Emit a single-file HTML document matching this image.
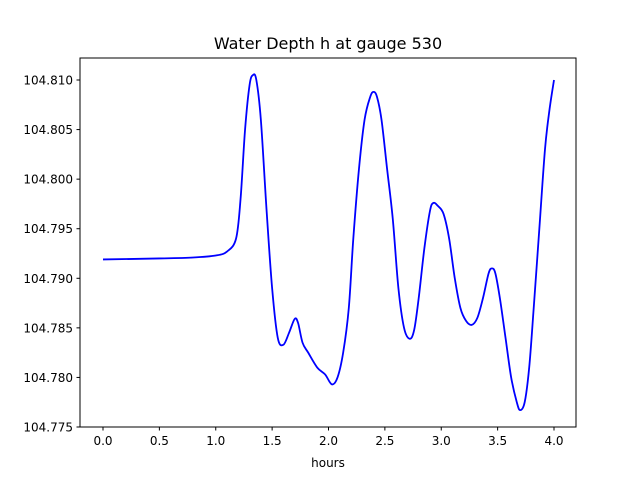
<!DOCTYPE html>
<html><head><meta charset="utf-8"><style>
body{margin:0;background:#fff}
svg text{font-family:"DejaVu Sans","Liberation Sans",sans-serif;fill:#000}
</style></head><body>
<svg width="640" height="480">
<rect width="640" height="480" fill="#fff"/>
<text x="328" y="49" font-size="16" text-anchor="middle">Water Depth h at gauge 530</text>
<g id="xt"></g>
<g id="yt"></g>
<path id="line" fill="none" stroke="#0000ff" stroke-width="1.8"/>
<rect x="80" y="58" width="496" height="369" fill="none" stroke="#000" stroke-width="1"/>
<text x="328" y="467" font-size="12" text-anchor="middle">hours</text>
</svg>
<script>
const hours=[0,0.5,0.8,1.0,1.1,1.18,1.22,1.26,1.3,1.33,1.36,1.4,1.45,1.5,1.55,1.6,1.65,1.7,1.73,1.77,1.82,1.9,1.97,2.03,2.08,2.13,2.18,2.22,2.27,2.32,2.37,2.4,2.43,2.47,2.52,2.57,2.62,2.67,2.72,2.76,2.8,2.85,2.9,2.93,2.97,3.02,3.07,3.12,3.17,3.22,3.27,3.32,3.37,3.42,3.45,3.48,3.52,3.57,3.62,3.67,3.7,3.74,3.78,3.82,3.87,3.92,3.96,4.0];
const depth=[104.7919,104.7920,104.7921,104.7923,104.7927,104.7940,104.798,104.805,104.8095,104.8105,104.8100,104.806,104.797,104.789,104.784,104.7833,104.7845,104.7859,104.7855,104.7835,104.7825,104.7810,104.7803,104.7793,104.7800,104.7825,104.7870,104.7940,104.8010,104.8060,104.8083,104.8088,104.8083,104.8060,104.8010,104.7960,104.7890,104.7850,104.7839,104.7848,104.7880,104.7930,104.7968,104.7976,104.7973,104.7965,104.7940,104.7900,104.7870,104.7857,104.7853,104.7860,104.7880,104.7905,104.7910,104.7905,104.7880,104.7840,104.7800,104.7775,104.7767,104.7775,104.7810,104.7870,104.7950,104.8030,104.8070,104.8100];
const xTicks=[0,0.5,1,1.5,2,2.5,3,3.5,4];
const xLabels=["0.0","0.5","1.0","1.5","2.0","2.5","3.0","3.5","4.0"];
const yTicks=[104.775,104.780,104.785,104.790,104.795,104.800,104.805,104.810];
const yLabels=["104.775","104.780","104.785","104.790","104.795","104.800","104.805","104.810"];
const X=v=>103+v*112.75;
const Y=v=>427-(v-104.775)/0.005*49.57;
const NS="http://www.w3.org/2000/svg";
const xt=document.getElementById('xt'),yt=document.getElementById('yt');
xTicks.forEach((t,i)=>{
  const l=document.createElementNS(NS,'line');
  l.setAttribute('x1',X(t));l.setAttribute('x2',X(t));l.setAttribute('y1',427);l.setAttribute('y2',430.5);l.setAttribute('stroke','#000');
  
  
  xt.appendChild(l);
  const s=document.createElementNS(NS,'text');
  s.setAttribute('x',X(t));s.setAttribute('y',445);s.setAttribute('font-size','12');s.setAttribute('text-anchor','middle');
  s.textContent=xLabels[i];
  
  
  xt.appendChild(s);
});
yTicks.forEach((t,i)=>{
  const l=document.createElementNS(NS,'line');
  l.setAttribute('x1',76.5);l.setAttribute('x2',80);l.setAttribute('y1',Y(t));l.setAttribute('y2',Y(t));l.setAttribute('stroke','#000');
  
  
  yt.appendChild(l);
  const s=document.createElementNS(NS,'text');
  s.setAttribute('x',73);s.setAttribute('y',Y(t)+4.5);s.setAttribute('font-size','12');s.setAttribute('text-anchor','end');
  s.textContent=yLabels[i];
  
  
  yt.appendChild(s);
});
// Catmull-Rom smoothing
const P=hours.map((h,i)=>[X(h),Y(depth[i])]);
let d='M'+P[0][0]+','+P[0][1];
for(let i=0;i<P.length-1;i++){
  const p0=P[Math.max(0,i-1)],p1=P[i],p2=P[i+1],p3=P[Math.min(P.length-1,i+2)];
  const c1=[p1[0]+(p2[0]-p0[0])/6,p1[1]+(p2[1]-p0[1])/6];
  const c2=[p2[0]-(p3[0]-p1[0])/6,p2[1]-(p3[1]-p1[1])/6];
  d+=' C'+c1+' '+c2+' '+p2;
}
document.getElementById('line').setAttribute('d',d);
</script>
</body></html>
